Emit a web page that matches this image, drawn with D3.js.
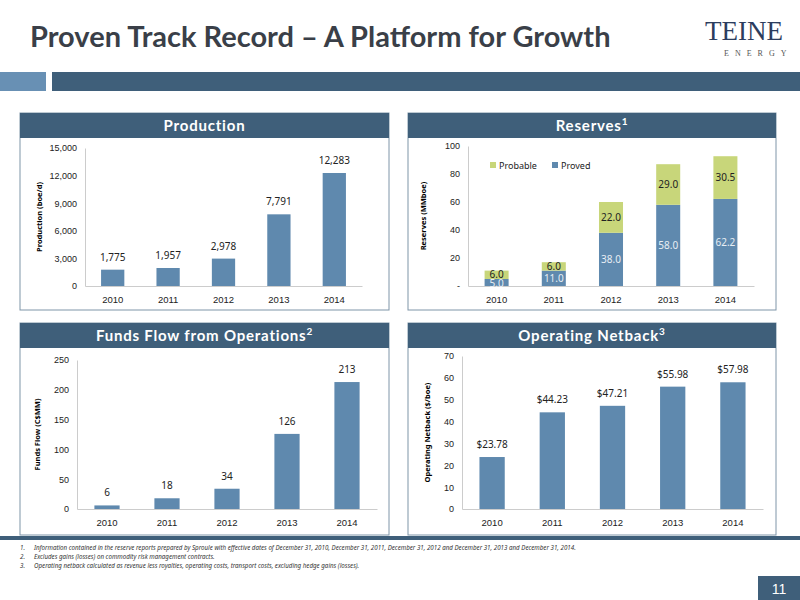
<!DOCTYPE html>
<html><head><meta charset="utf-8">
<script src="https://cdn.jsdelivr.net/npm/d3@7"></script>
<style>body{margin:0;background:#fff}svg{font-family:"Noto Sans",sans-serif}</style>
</head><body><svg id="c" width="800" height="600"></svg>
<script>
var years = ["2010","2011","2012","2013","2014"];
var production = [1775,1957,2978,7791,12283];
var prodLabels = ["1,775","1,957","2,978","7,791","12,283"];
var proved = [5.0,11.0,38.0,58.0,62.2];
var probable = [6.0,6.0,22.0,29.0,30.5];
var fundsFlow = [6,18,34,126,213];
var netback = [23.78,44.23,47.21,55.98,57.98];

var svg = d3.select("#c");
var dark = "#3f5f7a", bar = "#5f89ae", green = "#c8d67a";

svg.append("text").attr("x",30).attr("y",47).attr("font-size",29).attr("font-weight","bold")
  .attr("fill","#3a3f48").attr("font-family","Lato").text("Proven Track Record \u2013 A Platform for Growth");
svg.append("text").attr("x",705).attr("y",40).attr("font-size",27).attr("fill","#2c3d5e")
  .attr("font-family","Liberation Serif").text("TEINE");
svg.append("text").attr("x",724).attr("y",56).attr("font-size",8).attr("fill","#555")
  .attr("letter-spacing",6).attr("font-family","Liberation Serif").text("ENERGY");
svg.append("rect").attr("x",0).attr("y",72).attr("width",46).attr("height",19).attr("fill","#6890b4");
svg.append("rect").attr("x",52).attr("y",72).attr("width",748).attr("height",19).attr("fill",dark);
svg.append("rect").attr("x",0).attr("y",536).attr("width",800).attr("height",4).attr("fill",dark);
svg.append("rect").attr("x",758).attr("y",576).attr("width",42).attr("height",24).attr("fill",dark);
svg.append("text").attr("x",779).attr("y",594).attr("text-anchor","middle").attr("fill","#fff")
  .attr("font-size",14).attr("font-family","Liberation Sans").text("11");

var notes = ["Information contained in the reserve reports prepared by Sproule with effective dates of December 31, 2010, December 31, 2011, December 31, 2012 and December 31, 2013 and December 31, 2014.",
 "Excludes gains (losses) on commodity risk management contracts.",
 "Operating netback calculated as revenue less royalties, operating costs, transport costs, excluding hedge gains (losses)."];
notes.forEach(function(n,i){
  svg.append("text").attr("x",20).attr("y",550+i*9).attr("font-size",6.2).attr("font-style","italic").attr("fill","#333").text((i+1)+".");
  svg.append("text").attr("x",34).attr("y",550+i*9).attr("font-size",6.2).attr("font-style","italic").attr("fill","#333").text(n);
});

function panel(x,y,w,h,title,sup){
  svg.append("rect").attr("x",x).attr("y",y).attr("width",w).attr("height",h).attr("fill","#fff").attr("stroke","#7f95a8").attr("stroke-width",1);
  svg.append("rect").attr("x",x).attr("y",y).attr("width",w).attr("height",25).attr("fill",dark);
  var t = svg.append("text").attr("x",x+w/2).attr("y",y+18).attr("text-anchor","middle").attr("fill","#fff")
    .attr("font-size",15).attr("font-weight","bold").attr("font-family","Lato").attr("letter-spacing",0.8).text(title);
  if(sup) t.append("tspan").attr("dy",-6).attr("font-size",10).text(sup);
}
panel(20,113,369,197,"Production");
panel(408,113,368,197,"Reserves","1");
panel(20,323,369,212,"Funds Flow from Operations","2");
panel(408,323,368,212,"Operating Netback","3");

function chart(o){
  var x = d3.scaleBand().domain(years).range([o.x0,o.x1]).paddingInner(0.58).paddingOuter(0.29);
  var y = d3.scaleLinear().domain([0,o.max]).range([o.y0,o.y1]);
  var g = svg.append("g");
  var ya = g.append("g").attr("transform","translate("+o.x0+",0)")
    .call(d3.axisLeft(y).tickValues(o.ticks).tickSize(0).tickPadding(8).tickFormat(o.fmt));
  ya.select(".domain").attr("stroke","#ccc");
  ya.selectAll("text").attr("font-size",9).attr("fill","#222");
  var xa = g.append("g").attr("transform","translate(0,"+o.y0+")")
    .call(d3.axisBottom(x).tickSize(0).tickPadding(10));
  xa.select(".domain").attr("stroke","#ccc");
  xa.selectAll("text").attr("font-size",9.5).attr("fill","#222");
  g.append("text").attr("transform","translate("+o.lx+","+((o.y0+o.y1)/2)+") rotate(-90)")
    .attr("text-anchor","middle").attr("font-size",7.5).attr("font-weight","bold").text(o.label);
  return {x:x,y:y,g:g};
}
function simple(o,vals,labels){
  var c = chart(o);
  c.g.selectAll("rect.b").data(vals).enter().append("rect").attr("class","b")
    .attr("x",function(d,i){return c.x(years[i]);}).attr("width",c.x.bandwidth())
    .attr("y",function(d){return c.y(d);}).attr("height",function(d){return o.y0-c.y(d);}).attr("fill",bar);
  c.g.selectAll("text.v").data(vals).enter().append("text").attr("class","v")
    .attr("x",function(d,i){return c.x(years[i])+c.x.bandwidth()/2;}).attr("y",function(d){return c.y(d)-9;})
    .attr("text-anchor","middle").attr("font-size",10).attr("fill","#222").text(function(d,i){return labels[i];});
}
simple({x0:85,x1:362,y0:286,y1:148,max:15000,ticks:[0,3000,6000,9000,12000,15000],fmt:d3.format(","),lx:42,label:"Production (boe/d)"},production,prodLabels);
simple({x0:77,x1:377,y0:509,y1:360,max:250,ticks:[0,50,100,150,200,250],fmt:d3.format("d"),lx:40,label:"Funds Flow (C$MM)"},fundsFlow,fundsFlow.map(String));
simple({x0:462,x1:763,y0:509,y1:356,max:70,ticks:[0,10,20,30,40,50,60,70],fmt:d3.format("d"),lx:430,label:"Operating Netback ($/boe)"},netback,netback.map(function(d){return "$"+d.toFixed(2);}));

var rc = chart({x0:468,x1:754,y0:286,y1:146,max:100,ticks:[0,20,40,60,80,100],fmt:function(d){return d===0?"-":d;},lx:426,label:"Reserves (MMboe)"});
var stack = years.map(function(yr,i){return {yr:yr,p:proved[i],b:probable[i]};});
stack.forEach(function(d){
  rc.g.append("rect").attr("x",rc.x(d.yr)).attr("width",rc.x.bandwidth()).attr("y",rc.y(d.p)).attr("height",286-rc.y(d.p)).attr("fill",bar);
  rc.g.append("rect").attr("x",rc.x(d.yr)).attr("width",rc.x.bandwidth()).attr("y",rc.y(d.p+d.b)).attr("height",rc.y(d.p)-rc.y(d.p+d.b)).attr("fill",green);
  var cx = rc.x(d.yr)+rc.x.bandwidth()/2;
  rc.g.append("text").attr("x",cx).attr("y",(rc.y(d.p)+286)/2+4).attr("text-anchor","middle").attr("font-size",10).attr("fill","#e8eef4").text(d.p.toFixed(1));
  rc.g.append("text").attr("x",cx).attr("y",(rc.y(d.p)+rc.y(d.p+d.b))/2+3.5).attr("text-anchor","middle").attr("font-size",10).attr("fill","#222").text(d.b.toFixed(1));
});
[["Probable",green,490],["Proved",bar,552]].forEach(function(l){
  rc.g.append("rect").attr("x",l[2]).attr("y",162).attr("width",6).attr("height",6).attr("fill",l[1]);
  rc.g.append("text").attr("x",l[2]+9).attr("y",168.5).attr("font-size",9).attr("fill","#222").text(l[0]);
});
</script></body></html>
